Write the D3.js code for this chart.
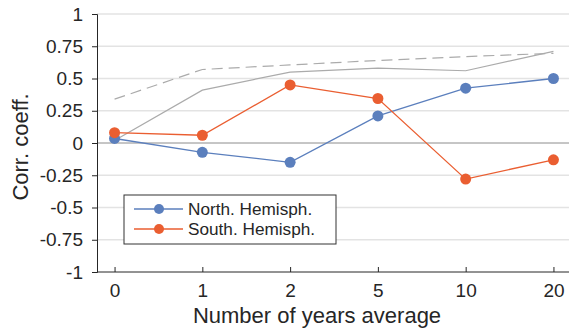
<!DOCTYPE html>
<html>
<head>
<meta charset="utf-8">
<script src="https://cdn.jsdelivr.net/npm/d3@7"></script>
<style>
body { margin: 0; background: #fff; }
svg { display: block; font-family: "Liberation Sans", Arial, sans-serif; }
</style>
</head>
<body>
<div id="chart"></div>
<script>
// data
var categories = ['0', '1', '2', '5', '10', '20'];
var northValues = [0.035, -0.072, -0.15, 0.21, 0.425, 0.5];
var southValues = [0.08, 0.06, 0.45, 0.345, -0.28, -0.13];
var graySolid = [0.02, 0.41, 0.55, 0.58, 0.56, 0.71];
var grayDashed = [0.34, 0.57, 0.605, 0.64, 0.67, 0.695];
var yTicks = [-1, -0.75, -0.5, -0.25, 0, 0.25, 0.5, 0.75, 1];

var
WIDTH = 569,
HEIGHT = 330,
margin = {top: 14, right: -2, bottom: 58, left: 97};

var BLUE = '#5b7fbd', ORANGE = '#ea5e31', GRAY = '#ababab';

var svg = d3.select('#chart')
	.append('svg')
	.attr('width', WIDTH)
	.attr('height', HEIGHT);

var x = d3.scalePoint()
	.domain(categories)
	.range([margin.left, WIDTH - margin.right])
	.padding(0.2);

var y = d3.scaleLinear()
	.domain([-1, 1])
	.range([HEIGHT - margin.bottom, margin.top]);

// grid
svg.append('g')
	.selectAll('line')
	.data(yTicks.filter(function(d) { return d !== -1; }))
	.enter()
	.append('line')
	.attr('x1', margin.left)
	.attr('x2', WIDTH)
	.attr('y1', function(d) { return y(d); })
	.attr('y2', function(d) { return y(d); })
	.attr('stroke', function(d) { return d === 0 ? '#8c8c8c' : '#e3e3e3'; })
	.attr('stroke-width', function(d) { return d === 0 ? 1 : 1.3; });

// left axis
var yAxis = svg.append('g')
	.attr('transform', 'translate(' + margin.left + ',0)')
	.call(d3.axisLeft(y).tickValues(yTicks).tickSize(5).tickPadding(9)
		.tickFormat(function(d) { return String(d); }));
yAxis.selectAll('path, line').attr('stroke', '#262626');
yAxis.selectAll('text').attr('font-size', 19).attr('fill', '#262626')
	.attr('font-family', '"Liberation Sans", Arial, sans-serif');

// bottom axis, ticks pointing in
var xAxis = svg.append('g')
	.attr('transform', 'translate(0,' + y(-1) + ')')
	.call(d3.axisBottom(x).tickSize(-5).tickSizeOuter(0).tickPadding(12));
xAxis.select('.domain').attr('d', 'M' + margin.left + ',0H' + WIDTH);
xAxis.selectAll('path, line').attr('stroke', '#262626');
xAxis.selectAll('text').attr('font-size', 19).attr('fill', '#262626')
	.attr('font-family', '"Liberation Sans", Arial, sans-serif');

var line = d3.line()
	.x(function(d, i) { return x(categories[i]); })
	.y(function(d) { return y(d); });

svg.append('path')
	.datum(grayDashed)
	.attr('fill', 'none')
	.attr('stroke', GRAY)
	.attr('stroke-width', 1.2)
	.attr('stroke-dasharray', '11,6')
	.attr('d', line);

svg.append('path')
	.datum(graySolid)
	.attr('fill', 'none')
	.attr('stroke', GRAY)
	.attr('stroke-width', 1.2)
	.attr('d', line);

function drawSeries(values, color) {
	svg.append('path')
		.datum(values)
		.attr('fill', 'none')
		.attr('stroke', color)
		.attr('stroke-width', 1.3)
		.attr('d', line);
	svg.append('g')
		.selectAll('circle')
		.data(values)
		.enter()
		.append('circle')
		.attr('cx', function(d, i) { return x(categories[i]); })
		.attr('cy', function(d) { return y(d); })
		.attr('r', 5.5)
		.attr('fill', color);
}
drawSeries(northValues, BLUE);
drawSeries(southValues, ORANGE);

// axis titles
svg.append('text')
	.attr('transform', 'translate(28,' + 147 + ') rotate(-90)')
	.attr('text-anchor', 'middle')
	.attr('font-size', 22)
	.attr('fill', '#262626')
	.text('Corr. coeff.');

svg.append('text')
	.attr('x', 317)
	.attr('y', 323)
	.attr('text-anchor', 'middle')
	.attr('font-size', 22)
	.attr('fill', '#262626')
	.text('Number of years average');

// legend
var legend = svg.append('g')
	.attr('class', 'legend')
	.attr('transform', 'translate(124,195)');
legend.append('rect')
	.attr('width', 212)
	.attr('height', 49)
	.attr('fill', '#fff')
	.attr('stroke', '#333')
	.attr('stroke-width', 1);
var legendItems = [
	{name: 'North. Hemisph.', color: BLUE},
	{name: 'South. Hemisph.', color: ORANGE}
];
var item = legend.selectAll('.legend-item')
	.data(legendItems)
	.enter()
	.append('g')
	.attr('class', 'legend-item')
	.attr('transform', function(d, i) { return 'translate(0,' + (14 + i * 20) + ')'; });
item.append('line')
	.attr('x1', 10).attr('x2', 59)
	.attr('stroke', function(d) { return d.color; })
	.attr('stroke-width', 1.3);
item.append('circle')
	.attr('cx', 35)
	.attr('r', 5)
	.attr('fill', function(d) { return d.color; });
item.append('text')
	.attr('x', 64)
	.attr('dy', '0.35em')
	.attr('font-size', 17.2)
	.attr('fill', '#262626')
	.text(function(d) { return d.name; });
</script>
</body>
</html>
